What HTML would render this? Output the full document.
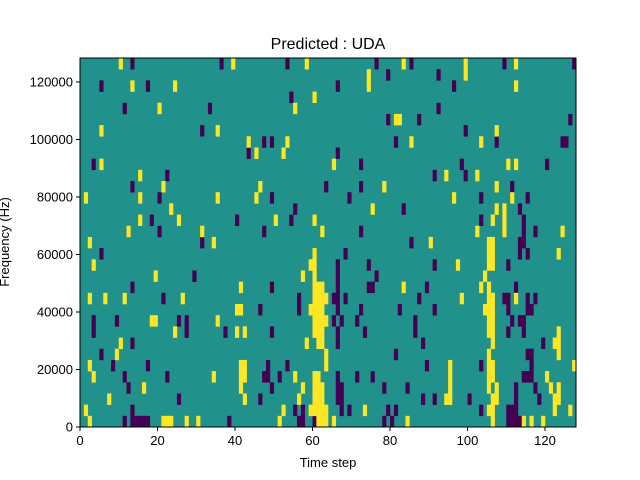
<!DOCTYPE html>
<html><head><meta charset="utf-8">
<style>
body{margin:0;background:#fff;}
svg{display:block;font-family:"Liberation Sans","DejaVu Sans",sans-serif;}
</style></head>
<body>
<svg id="chart" width="640" height="480" viewBox="0 0 640 480">
<rect width="640" height="480" fill="#fff"/>
<text x="328" y="49" font-size="16" text-anchor="middle">Predicted : UDA</text>
<g id="cells"></g>
<g id="axes"></g>
<text x="328" y="467" font-size="13" text-anchor="middle">Time step</text>
<text transform="translate(9,242) rotate(-90)" font-size="13" text-anchor="middle">Frequency (Hz)</text>
</svg>
<script>
const nCols = 128;
const nRows = 33;
const yMax = 128348;
const xTicks = [0,20,40,60,80,100,120];
const yTicks = [0,20000,40000,60000,80000,100000,120000];
const yTickLabels = ["0","20000","40000","60000","80000","100000","120000"];
// rows listed top (row 0) to bottom (row 32); values = time-step columns
const lowCells = [
[13,36,53,76,85,109,127],[79,92],[5,17,66,96],[54],[11,33,92],[79,87,126],[31,99],
[47,49,81,107,124,125],[43,66],[3,72,98,120],[22,91,99],[13,63,72,111],[20,49,69,103,115],
[55,83,113],[18,40,54,103,114],[20,47,72,114,117],[31,85,113,114],[5,68,113,115],
[66,74,91,110],[29,66,76],[13,49,66,74,75,89,112],[21,56,65,66,68,87,109,110,115,117],
[46,56,66,72,82,91,110,115,116],[3,9,25,27,65,67,71,86,111,113,114],[3,27,37,49,66,73,86,110,114],
[13,66,88,119],[5,81,115,116],[8,17,48,53,89,103,116],[11,22,47,48,51,66,71,75,114,115,116],
[12,49,66,67,78,84,112,117],[25,46,66,67,88,91,100,112,118],[13,55,57,67,69,79,81,103,110,111,112],
[11,13,14,15,16,17,38,56,57,60,78,80,110,111,112,113]
];
const highCells = [
[10,39,58,83,99,112],[74,99],[13,24,74,112],[60],[20,55],[81,82],[5,35,107],[43,53,85,103],
[45,52],[5,65,110,112],[15,94,102],[21,46,78,107],[1,15,35,45,96,111],[23,75,107,109],
[15,25,50,60,106,109],[12,31,62,102,109,124],[2,34,90,105,106],[60,105,106,123],
[3,59,60,97,105,106],[19,57,60,104],[41,60,61,62,83,103,105],[2,6,11,26,60,61,62,63,98,105,106,112],
[40,41,59,60,61,62,104,105,106],[18,19,35,60,61,62,63,105,106],[24,40,42,60,61,62,105,106,123],
[10,58,61,62,106,122,123],[9,63,105,123],[2,41,42,63,95,105,106,127],
[3,34,41,42,55,60,61,95,105,106,120],[16,41,57,60,61,62,95,105,107,121,123],
[7,42,56,60,61,62,94,95,106,107,122,123],[1,52,59,60,61,62,63,73,105,106,122,126],
[2,21,22,23,27,30,51,61,62,63,65,84,106,114,116,119]
];
const L=80,R=576,T=58,B=427;
const NS="http://www.w3.org/2000/svg";
function xScale(c){return L+c*(R-L)/nCols;}
function rowTop(r){return T+r*(B-T)/nRows;}
function yScale(v){return B-v*(B-T)/yMax;}
const cells=document.getElementById('cells');
const bg=document.createElementNS(NS,'rect');
bg.setAttribute('x',L);bg.setAttribute('y',T);bg.setAttribute('width',R-L);bg.setAttribute('height',B-T);bg.setAttribute('fill','#21918c');


cells.appendChild(bg);
function draw(list,color,name){
  list.forEach((cols,r)=>{
    cols.forEach(c=>{
      const el=document.createElementNS(NS,'rect');
      const x0=xScale(c),x1=xScale(c+1),y0=rowTop(r),y1=rowTop(r+1);
      el.setAttribute('x',x0.toFixed(2));el.setAttribute('y',y0.toFixed(2));
      el.setAttribute('width',(x1-x0+0.3).toFixed(2));el.setAttribute('height',(y1-y0+0.3).toFixed(2));
      el.setAttribute('fill',color);
      
      
      cells.appendChild(el);
    });
  });
}
draw(lowCells,'#440154','heatmap-cell-low');
draw(highCells,'#fde725','heatmap-cell-high');
const axes=document.getElementById('axes');
const frame=document.createElementNS(NS,'rect');
frame.setAttribute('x',L);frame.setAttribute('y',T);frame.setAttribute('width',R-L);frame.setAttribute('height',B-T);
frame.setAttribute('fill','none');frame.setAttribute('stroke','#000');frame.setAttribute('stroke-width','1');


axes.appendChild(frame);
xTicks.forEach(v=>{
  const x=xScale(v);
  const ln=document.createElementNS(NS,'line');
  ln.setAttribute('x1',x);ln.setAttribute('x2',x);ln.setAttribute('y1',B);ln.setAttribute('y2',B+4);ln.setAttribute('stroke','#000');
  
  
  axes.appendChild(ln);
  const t=document.createElementNS(NS,'text');
  t.setAttribute('x',x);t.setAttribute('y',B+18);t.setAttribute('font-size','13');t.setAttribute('text-anchor','middle');
  t.textContent=String(v);
  
  
  axes.appendChild(t);
});
yTicks.forEach((v,i)=>{
  const y=yScale(v);
  const ln=document.createElementNS(NS,'line');
  ln.setAttribute('x1',L-4);ln.setAttribute('x2',L);ln.setAttribute('y1',y);ln.setAttribute('y2',y);ln.setAttribute('stroke','#000');
  
  
  axes.appendChild(ln);
  const t=document.createElementNS(NS,'text');
  t.setAttribute('x',L-7);t.setAttribute('y',y+4.5);t.setAttribute('font-size','13');t.setAttribute('text-anchor','end');
  t.textContent=yTickLabels[i];
  
  
  axes.appendChild(t);
});
</script>
</body></html>
